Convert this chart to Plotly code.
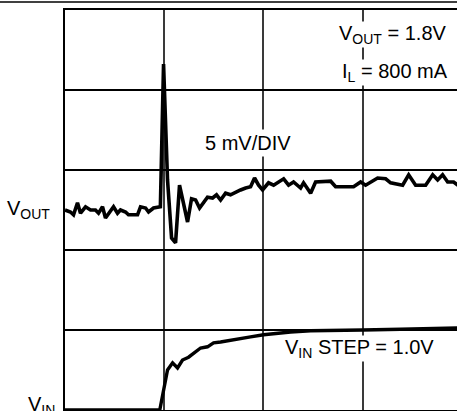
import plotly.graph_objects as go

# time axis in divisions, values in divisions (V_OUT: 5 mV/div, V_IN: 1 V/div)
vout_t = [0.0, 0.055, 0.086, 0.126, 0.156, 0.207, 0.257, 0.307, 0.338, 0.378, 0.408, 0.459,
          0.489, 0.529, 0.559, 0.610, 0.640, 0.731, 0.761, 0.812, 0.842, 0.892, 0.942, 0.961,
          0.993, 1.033, 1.074, 1.114, 1.154, 1.235, 1.275, 1.316, 1.356, 1.396, 1.436, 1.487,
          1.527, 1.568, 1.618, 1.668, 1.719, 1.769, 1.820, 1.870, 1.910, 1.951, 1.991, 2.051,
          2.102, 2.203, 2.253, 2.303, 2.374, 2.404, 2.475, 2.525, 2.677, 2.727, 2.908, 2.979,
          3.029, 3.080, 3.150, 3.231, 3.281, 3.402, 3.463, 3.533, 3.634, 3.705, 3.755, 3.805,
          3.856, 3.916, 3.960]
vout_div = [2.50, 2.475, 2.44, 2.59, 2.46, 2.54, 2.50, 2.50, 2.46, 2.54, 2.40, 2.50,
            2.54, 2.46, 2.50, 2.475, 2.44, 2.44, 2.54, 2.525, 2.475, 2.525, 2.54, 2.54,
            4.325, 2.875, 2.15, 2.09, 2.81, 2.35, 2.64, 2.625, 2.525, 2.59, 2.66, 2.65,
            2.69, 2.625, 2.71, 2.69, 2.725, 2.75, 2.775, 2.79, 2.90, 2.81, 2.75, 2.84,
            2.81, 2.89, 2.81, 2.85, 2.775, 2.84, 2.71, 2.85, 2.86, 2.79, 2.79, 2.85,
            2.81, 2.85, 2.90, 2.89, 2.84, 2.81, 2.94, 2.81, 2.81, 2.94, 2.875, 2.94,
            2.85, 2.85, 2.81]

vin_t = [0.0, 0.955, 1.033, 1.084, 1.134, 1.184, 1.245, 1.295, 1.366, 1.436, 1.497, 1.568,
         1.668, 1.769, 1.870, 2.001, 2.122, 2.273, 2.475, 2.677, 2.999, 3.382, 3.684, 3.960]
vin_div = [0.0, 0.0, 0.50, 0.59, 0.525, 0.625, 0.66, 0.71, 0.775, 0.79, 0.84, 0.85,
           0.875, 0.90, 0.915, 0.94, 0.96, 0.975, 0.99, 0.99, 1.0, 1.01, 1.02, 1.025]

FONT = "Liberation Sans, Arial, sans-serif"
FS = 20

fig = go.Figure()
fig.add_trace(go.Scatter(x=vout_t, y=vout_div, mode="lines",
                         line=dict(color="black", width=3.6), showlegend=False))
fig.add_trace(go.Scatter(x=vin_t, y=vin_div, mode="lines",
                         line=dict(color="black", width=3.4), showlegend=False))

fig.update_layout(
    width=457, height=411,
    margin=dict(l=65, r=0, t=10, b=1),
    paper_bgcolor="white", plot_bgcolor="white",
    font=dict(family=FONT, size=FS, color="black"),
    xaxis=dict(range=[0, 3.95], dtick=1, showgrid=True, gridcolor="#3a3a3a", gridwidth=1.7,
               showticklabels=False, ticks="", zeroline=False,
               showline=True, linecolor="black", linewidth=2, mirror=True, fixedrange=True),
    yaxis=dict(range=[0, 5], dtick=1, showgrid=True, gridcolor="black", gridwidth=2,
               showticklabels=False, ticks="", zeroline=False,
               showline=True, linecolor="black", linewidth=2.4, mirror=False, fixedrange=True),
)

# page separator line at the top
fig.add_shape(type="line", xref="paper", yref="paper", x0=-0.2, x1=1.05, y0=1.02, y1=1.02,
              line=dict(color="black", width=1.5))

ann = dict(showarrow=False, font=dict(family=FONT, size=FS, color="black"))
fig.add_annotation(x=1.84, y=3.34, xref="x", yref="y", text="5 mV/DIV",
                   xanchor="center", yanchor="middle", bgcolor="white", borderpad=2, **ann)
fig.add_annotation(x=3.86, y=4.70, xref="x", yref="y", text="V<sub>OUT</sub> = 1.8V",
                   xanchor="right", yanchor="middle", bgcolor="white", borderpad=0, **ann)
fig.add_annotation(x=3.87, y=4.22, xref="x", yref="y", text="I<sub>L</sub> = 800 mA",
                   xanchor="right", yanchor="middle", bgcolor="white", borderpad=0, **ann)
fig.add_annotation(x=2.21, y=0.77, xref="x", yref="y", text="V<sub>IN</sub> STEP = 1.0V",
                   xanchor="left", yanchor="middle", bgcolor="white", borderpad=0, **ann)
fig.add_annotation(x=(5 - 65) / 392, y=(410 - 209) / 400, xref="paper", yref="paper",
                   text="V<sub>OUT</sub>", xanchor="left", yanchor="middle", **ann)
fig.add_annotation(x=(26 - 65) / 392, y=(410 - 405) / 400, xref="paper", yref="paper",
                   text="V<sub>IN</sub>", xanchor="left", yanchor="middle", **ann)

fig.write_html("out.html", config={"displayModeBar": False},
               post_script="document.body.style.margin='0';")
